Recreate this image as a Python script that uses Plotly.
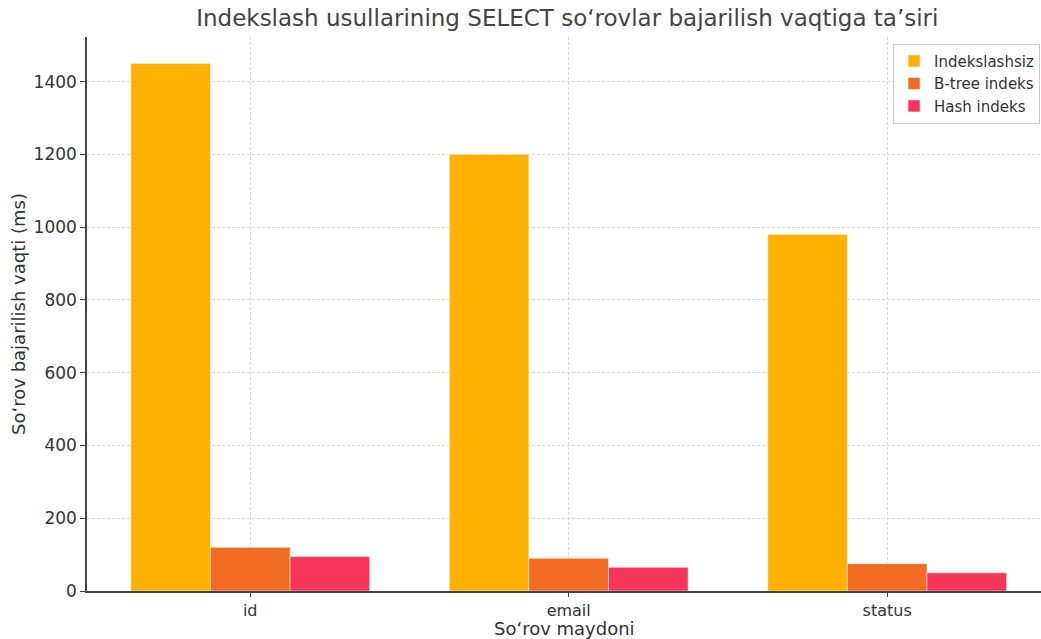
import plotly.graph_objects as go

categories = ["id", "email", "status"]
series_names = ["Indekslashsiz", "B-tree indeks", "Hash indeks"]
no_index = [1450, 1200, 980]
btree = [120, 90, 75]
hash_idx = [95, 65, 50]
colors = ["#FFB000", "#F26B22", "#F7345A"]
yticks = [0, 200, 400, 600, 800, 1000, 1200, 1400]

font = "DejaVu Sans, Verdana, sans-serif"
fig = go.Figure()
for name, vals, c in zip(series_names, [no_index, btree, hash_idx], colors):
    fig.add_trace(go.Bar(
        x=list(range(len(categories))), y=vals, name=name,
        marker=dict(color=c, line=dict(color="rgba(255,255,255,0.5)", width=1)),
    ))

fig.update_layout(
    width=1041, height=639,
    barmode="group", bargap=0.25, bargroupgap=0,
    paper_bgcolor="white", plot_bgcolor="white",
    margin=dict(l=87, r=0, t=37, b=48),
    font=dict(family=font, color="#333333"),
    title=dict(text="Indekslash usullarining SELECT so‘rovlar bajarilish vaqtiga ta’siri",
               x=0.545, xanchor="center", y=0.972, yanchor="middle",
               font=dict(size=23, color="#444444")),
    legend=dict(x=0.999, y=0.988, xanchor="right", yanchor="top",
                bgcolor="rgba(255,255,255,0.85)", bordercolor="#cccccc", borderwidth=1,
                font=dict(size=15, color="#333333"), tracegroupgap=2),
    xaxis=dict(
        tickmode="array", tickvals=list(range(len(categories))), ticktext=categories,
        range=[-0.5125, 2.483],
        showgrid=True, gridcolor="#d9d9d9", griddash="3px,2px", gridwidth=1,
        showline=True, linecolor="#444444", linewidth=1.5,
        ticks="outside", ticklen=4, tickcolor="#444444",
        tickfont=dict(size=16, color="#333333"),
        zeroline=False,
    ),
    yaxis=dict(
        tickmode="array", tickvals=yticks,
        range=[0, 1522.5],
        showgrid=True, gridcolor="#d9d9d9", griddash="3px,2px", gridwidth=1,
        showline=True, linecolor="#444444", linewidth=1.5,
        ticks="outside", ticklen=5, tickcolor="#444444",
        tickfont=dict(size=17, color="#333333"),
        title=dict(text="So‘rov bajarilish vaqti (ms)", font=dict(size=18, color="#333333"), standoff=3),
        zeroline=False,
    ),
    annotations=[dict(
        text="So‘rov maydoni", xref="paper", yref="paper", x=0.5, y=-0.068,
        xanchor="center", yanchor="middle", showarrow=False,
        font=dict(size=18, color="#333333"),
    )],
)
fig.write_html("out.html")
